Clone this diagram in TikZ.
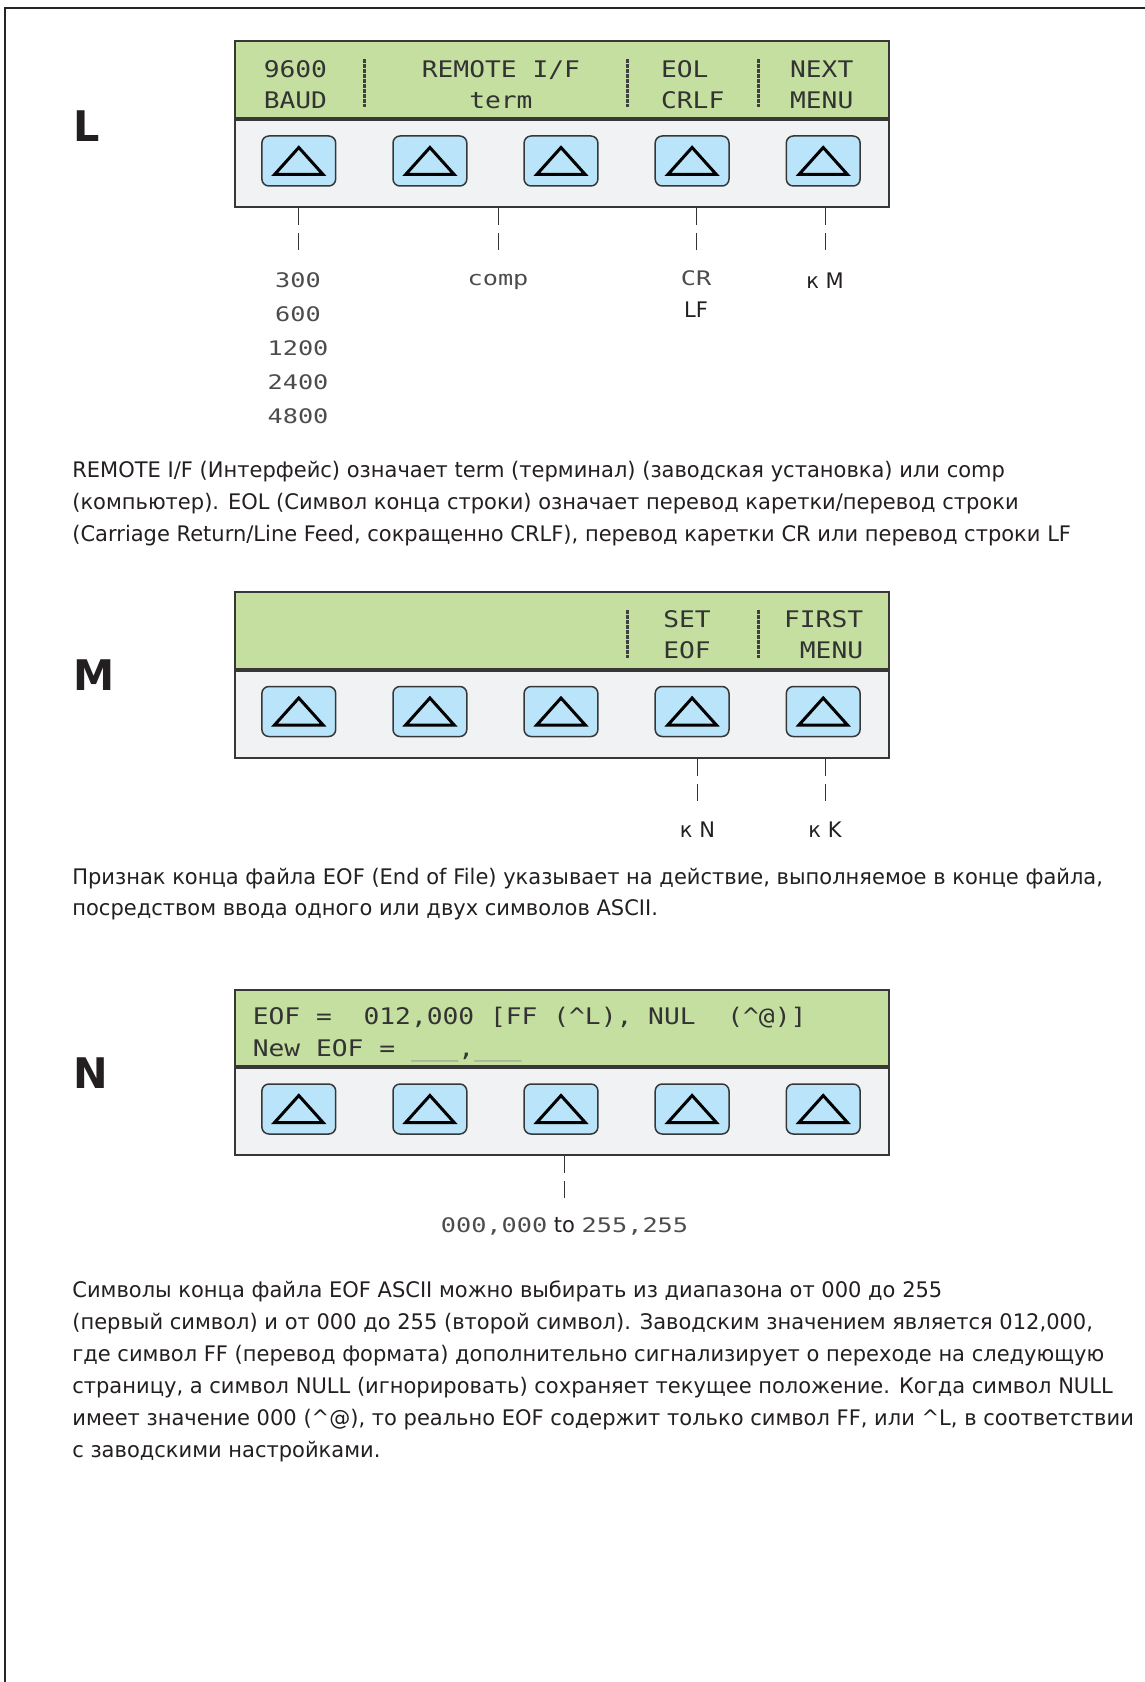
\documentclass[tikz,border=0pt]{standalone}
\usepackage{fontspec}
\setmainfont{DejaVu Sans}[FakeStretch=0.98]
\newfontfamily\lcdfont{DejaVu Sans Mono}[FakeStretch=1.15]
\newfontfamily\lcdsmallfont{DejaVu Sans Mono}[FakeStretch=1.26]
\usepackage{xcolor}
\usepackage{tikz}
\usetikzlibrary{positioning}

\definecolor{lcdgreen}{RGB}{197,223,160}
\definecolor{padgray}{RGB}{241,242,244}
\definecolor{keyblue}{RGB}{185,228,249}
\definecolor{edge}{RGB}{55,55,55}
\definecolor{ink}{RGB}{35,31,32}

\begin{document}
\begin{tikzpicture}[
    lcd/.style={draw=edge, line width=0.04cm, fill=lcdgreen, anchor=north west, inner sep=0pt, minimum width=13.08cm, minimum height=1.53cm},
    pad/.style={lcd, fill=padgray, minimum height=1.74cm},
    softkey/.style={draw=edge, line width=0.03cm, fill=keyblue, rounded corners=0.14cm, inner sep=0pt, minimum width=1.476cm, minimum height=1.0cm,
        path picture={\draw[line width=0.06cm, black, sharp corners, line join=miter]
            ([shift={(-0.485,-0.27)}]path picture bounding box.center) --
            ([shift={(0,0.27)}]path picture bounding box.center) --
            ([shift={(0.485,-0.27)}]path picture bounding box.center) -- cycle;}},
    divider/.style={draw=black!75, line width=0.055cm, dash pattern=on 0.08cm off 0.02cm},
    lcdtext/.style={font=\lcdfont\fontsize{13}{17.8}\selectfont, text=black!80, inner sep=0pt},
    lcdlabel/.style={font=\lcdsmallfont\fontsize{11.4}{19.4}\selectfont, text=black!70, inner sep=0pt, align=center},
    note/.style={font=\fontsize{12.2}{18}\selectfont, text=ink, inner sep=0pt},
    para/.style={font=\fontsize{12.2}{18.04}\selectfont, text=ink, inner sep=0pt, align=left, anchor=base west},
    panelname/.style={font=\bfseries\fontsize{24}{24}\selectfont, text=ink, inner sep=0pt, anchor=base west},
    leader/.style={draw=black!80, line width=0.02cm, dash pattern=on 0.34cm off 0.16cm},
    frame/.style={draw=black!85, line width=0.05cm}
]
\useasboundingbox (0,0) rectangle (22.9,-33.64);
\draw[frame] (22.9,-0.16) -- (0.1,-0.16) -- (0.1,-33.64);

% panel L (base of a two-line node is its last line)
\begin{scope}[shift={(4.68,-0.81)}]
\node[lcd] (lcdL) at (0,0) {};
\node[pad] (padL) at (lcdL.south west) {};
\node[softkey] (L1) at (1.296,-2.41) {};
\node[softkey] (L2) at (3.918,-2.41) {};
\node[softkey] (L3) at (6.54,-2.41) {};
\node[softkey] (L4) at (9.162,-2.41) {};
\node[softkey] (L5) at (11.784,-2.41) {};
\draw[divider] (2.612,-0.37) -- (2.612,-1.33);
\draw[divider] (7.874,-0.37) -- (7.874,-1.33);
\draw[divider] (10.488,-0.37) -- (10.488,-1.33);
\node[lcdtext, align=left, anchor=base west] (baudL) at (0.588,-1.356) {9600\\BAUD};
\node[lcdtext, align=center, anchor=base] (remoteL) at (5.338,-1.356) {REMOTE I/F\\term};
\node[lcdtext, align=left, anchor=base west] (eolL) at (8.534,-1.356) {EOL\\CRLF};
\node[lcdtext, align=left, anchor=base west] (nextL) at (11.114,-1.356) {NEXT\\MENU};
\end{scope}
\node[panelname] (nameL) at (1.46,-2.83) {L};

\node[lcdlabel, anchor=base] (baud) at (5.96,-8.474) {300\\600\\1200\\2400\\4800};
\node[lcdlabel, anchor=base] (comp) at (9.96,-5.72) {comp};
\node[lcdlabel, anchor=base] (cr) at (13.92,-5.72) {CR};
\node[note, anchor=base] (lf) at (13.92,-6.36) {LF};
\node[note, anchor=base] (toM) at (16.5,-5.766) {к M};
\draw[leader] (padL.south -| baud) -- ++(0,-0.84);
\draw[leader] (padL.south -| comp) -- ++(0,-0.84);
\draw[leader] (padL.south -| cr) -- ++(0,-0.84);
\draw[leader] (padL.south -| toM) -- ++(0,-0.84);

\node[para] (textL) at (1.44,-10.828) {REMOTE I/F (Интерфейс) означает term (терминал) (заводская установка) или comp\\
(компьютер). EOL (Символ конца строки) означает перевод каретки/перевод строки\\
(Carriage Return/Line Feed, сокращенно CRLF), перевод каретки CR или перевод строки LF};

% panel M
\begin{scope}[shift={(4.68,-11.82)}]
\node[lcd] (lcdM) at (0,0) {};
\node[pad] (padM) at (lcdM.south west) {};
\node[softkey] (M1) at (1.296,-2.41) {};
\node[softkey] (M2) at (3.918,-2.41) {};
\node[softkey] (M3) at (6.54,-2.41) {};
\node[softkey] (M4) at (9.162,-2.41) {};
\node[softkey] (M5) at (11.784,-2.41) {};
\draw[divider] (7.874,-0.37) -- (7.874,-1.33);
\draw[divider] (10.488,-0.37) -- (10.488,-1.33);
\node[lcdtext, align=left, anchor=base west] (setM) at (8.58,-1.356) {SET\\EOF};
\node[lcdtext, align=left, anchor=base west] (firstM) at (10.994,-1.356) {FIRST\\~MENU};
\end{scope}
\node[panelname] (nameM) at (1.46,-13.8) {M};

\node[note, anchor=base] (toN) at (13.95,-16.74) {к N};
\node[note, anchor=base] (toK) at (16.5,-16.74) {к K};
\draw[leader] (padM.south -| toN) -- ++(0,-0.84);
\draw[leader] (padM.south -| toK) -- ++(0,-0.84);

\node[para] (textM) at (1.44,-18.314) {Признак конца файла EOF (End of File) указывает на действие, выполняемое в конце файла,\\
посредством ввода одного или двух символов ASCII.};

% panel N
\begin{scope}[shift={(4.68,-19.77)}]
\node[lcd] (lcdN) at (0,0) {};
\node[pad] (padN) at (lcdN.south west) {};
\node[softkey] (N1) at (1.296,-2.41) {};
\node[softkey] (N2) at (3.918,-2.41) {};
\node[softkey] (N3) at (6.54,-2.41) {};
\node[softkey] (N4) at (9.162,-2.41) {};
\node[softkey] (N5) at (11.784,-2.41) {};
\node[lcdtext, align=left, anchor=base west] (eofN) at (0.37,-1.35) {EOF =~~012,000 [FF (\textasciicircum L), NUL~~(\textasciicircum @)]\\
New EOF = {\color{black!45}\_\_\_},{\color{black!45}\_\_\_}};
\end{scope}
\node[panelname] (nameN) at (1.46,-21.77) {N};

\node[note, anchor=base] (range) at (11.29,-24.65) {{\lcdsmallfont\fontsize{11.4}{19.4}\selectfont\color{black!70}000,000} to {\lcdsmallfont\fontsize{11.4}{19.4}\selectfont\color{black!70}255,255}};
\draw[leader] (padN.south -| range) -- ++(0,-0.84);

\node[para, font=\fontsize{12.2}{18.2}\selectfont] (textN) at (1.44,-29.14) {Символы конца файла EOF ASCII можно выбирать из диапазона от 000 до 255\\
(первый символ) и от 000 до 255 (второй символ). Заводским значением является 012,000,\\
где символ FF (перевод формата) дополнительно сигнализирует о переходе на следующую\\
страницу, а символ NULL (игнорировать) сохраняет текущее положение. Когда символ NULL\\
имеет значение 000 (\textasciicircum @), то реально EOF содержит только символ FF, или \textasciicircum L, в соответствии\\
с заводскими настройками.};
\end{tikzpicture}
\end{document}
